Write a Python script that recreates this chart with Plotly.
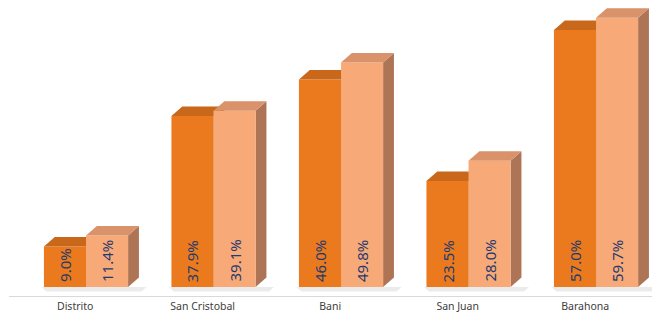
import plotly.graph_objects as go

categories = ["Distrito", "San Cristobal", "Bani", "San Juan", "Barahona"]
series_a = [9.0, 37.9, 46.0, 23.5, 57.0]
series_b = [11.4, 39.1, 49.8, 28.0, 59.7]

# geometry (data units)
BAR_W = 0.33
DX = 0.085    # depth offset along x
DY = 2.1      # depth offset along y
LABEL_SHIFT = -0.085

styles = [
    dict(front="#EA7A1D", top="#C9681A", side="#A5561A"),
    dict(front="#F8A978", top="#D9926A", side="#AE7456"),
]

fig = go.Figure()

def poly(xs, ys, color):
    fig.add_trace(go.Scatter(
        x=xs + [xs[0]], y=ys + [ys[0]], mode="lines", fill="toself",
        fillcolor=color, line=dict(width=0, color=color),
        hoverinfo="skip", showlegend=False))

# soft floor shadows
for i in range(len(categories)):
    x0 = i - BAR_W
    x1 = i + BAR_W
    poly([x0 - 0.02, x1 + DX + 0.06, x1 + DX + 0.02, x0 + 0.02],
         [0, 0, -1.0, -1.0], "rgba(120,120,120,0.15)")

for i in range(len(categories)):
    for k, vals in enumerate([series_a, series_b]):
        v = vals[i]
        x0 = i - BAR_W + k * BAR_W
        x1 = x0 + BAR_W
        st = styles[k]
        # side face
        poly([x1, x1 + DX, x1 + DX, x1], [0, DY, v + DY, v], st["side"])
        # front face
        poly([x0, x1, x1, x0], [0, 0, v, v], st["front"])
        # top face
        poly([x0, x1, x1 + DX, x0 + DX], [v, v, v + DY, v + DY], st["top"])
        fig.add_annotation(
            x=(x0 + x1) / 2, y=0, xref="x", yref="y",
            text=f"{v:.1f}%", textangle=-90, showarrow=False,
            xanchor="center", yanchor="bottom", yshift=3,
            font=dict(family="Noto Sans", size=15, color="#1F3A6E"))

fig.update_layout(
    width=652, height=318,
    margin=dict(l=9, r=0, t=0, b=22),
    paper_bgcolor="white", plot_bgcolor="white",
    showlegend=False,
    xaxis=dict(range=[-0.604, 4.439], showgrid=False, zeroline=False,
               showline=True, linecolor="#D9D9D9", linewidth=1,
               tickmode="array",
               tickvals=[i + LABEL_SHIFT for i in range(len(categories))],
               ticktext=categories, ticks="",
               tickfont=dict(family="Noto Sans", size=10.5, color="#404040"),
               fixedrange=True),
    yaxis=dict(range=[-2.0, 63.64], visible=False, fixedrange=True),
)

fig.write_html("out.html",
               config={"displayModeBar": False},
               post_script="document.body.style.margin='0';document.body.style.overflow='hidden';")
